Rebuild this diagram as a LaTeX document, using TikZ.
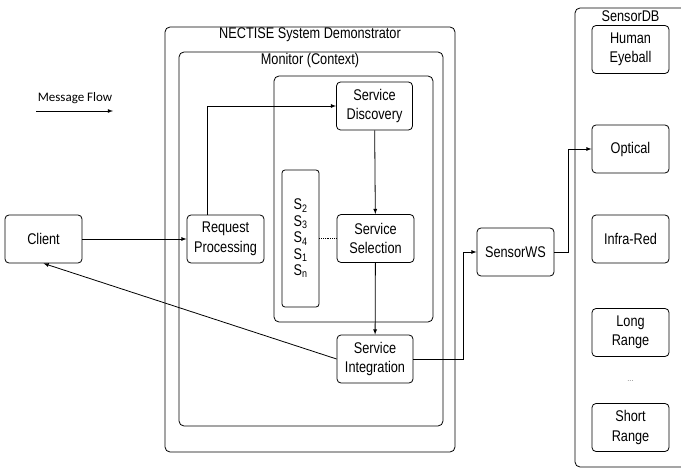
\documentclass[tikz,border=0pt]{standalone}
\usepackage{fontspec}
\setmainfont{Liberation Sans}[FakeStretch=0.82]
\newfontfamily\notefont{Carlito}
\usetikzlibrary{calc}

\begin{document}
\begin{tikzpicture}[x=1pt,y=-1pt,line width=0.8pt,
	every node/.style={font=\fontsize{15.5}{19.5}\selectfont},
	box/.style={draw,rounded corners=4pt,align=center,minimum width=77pt,minimum height=48pt,inner sep=1pt},
	frame/.style={draw,rounded corners=5pt},
	flow/.style={->,>=latex}]
\useasboundingbox (0,0) rectangle (681,468);
\clip (0,0) rectangle (681,468);

% containers
\draw[frame] (165,27) rectangle (455,452);
\draw[frame] (179,52) rectangle (443,426);
\draw[frame] (274,76) rectangle (433,322);
\draw[frame] (575,8) rectangle (700,467);
\node (demo) at (310,35) {NECTISE System Demonstrator};
\node (monitor) at (310,60) {Monitor (Context)};
\node (db) at (630.5,16) {SensorDB};

% legend
\node[font=\notefont\fontsize{13}{13}\selectfont] (legend) at (75,98) {Message Flow};
\coordinate (legend a) at (36,111);
\coordinate (legend b) at (113,111);
\draw[flow] (legend a) -- (legend b);

% nodes
\node[box] (client) at (43.5,239) {Client};
\node[box] (request) at (225.5,239) {Request\\Processing};
\node[box,minimum width=76pt] (discovery) at (374.5,106) {Service\\Discovery};
\node[box] (selection) at (375.5,238.5) {Service\\Selection};
\node[box,minimum width=37pt,minimum height=137pt,rounded corners=3pt,
	font=\fontsize{15.5}{16.5}\selectfont] (services) at (300.5,238.5)
	{S\textsubscript{2}\\S\textsubscript{3}\\S\textsubscript{4}\\S\textsubscript{1}\\S\textsubscript{n}};
\node[box,minimum width=76pt] (integration) at (375,359) {Service\\Integration};
\node[box] (sensorws) at (515.5,252) {SensorWS};

\node[box] (eyeball) at (630.5,49.5) {Human\\Eyeball};
\node[box] (optical) at (630.5,149) {Optical};
\node[box] (infrared) at (630.5,239) {Infra-Red};
\node[box] (long) at (630.5,332.5) {Long\\Range};
\node[text=gray,font=\fontsize{9}{9}\selectfont] (more) at (630.5,381) {...};
\node[box] (short) at (630.5,427.5) {Short\\Range};

% message flow
\draw[flow] (client) -- (request);
\draw[flow] (request.north -| 207,0) |- (discovery.west);
\draw[flow] (discovery) -- (selection);
\draw[densely dotted] (services.east |- selection.west) -- (selection.west);
\draw[flow] (selection) -- (integration);
\draw[flow] (integration.west) -- (client.south);
\draw[flow] (integration.east) -- ++(50,0) |- (sensorws.west);
\draw[flow] (sensorws.east) -- ++(14,0) |- (optical.west);
\end{tikzpicture}
\end{document}
